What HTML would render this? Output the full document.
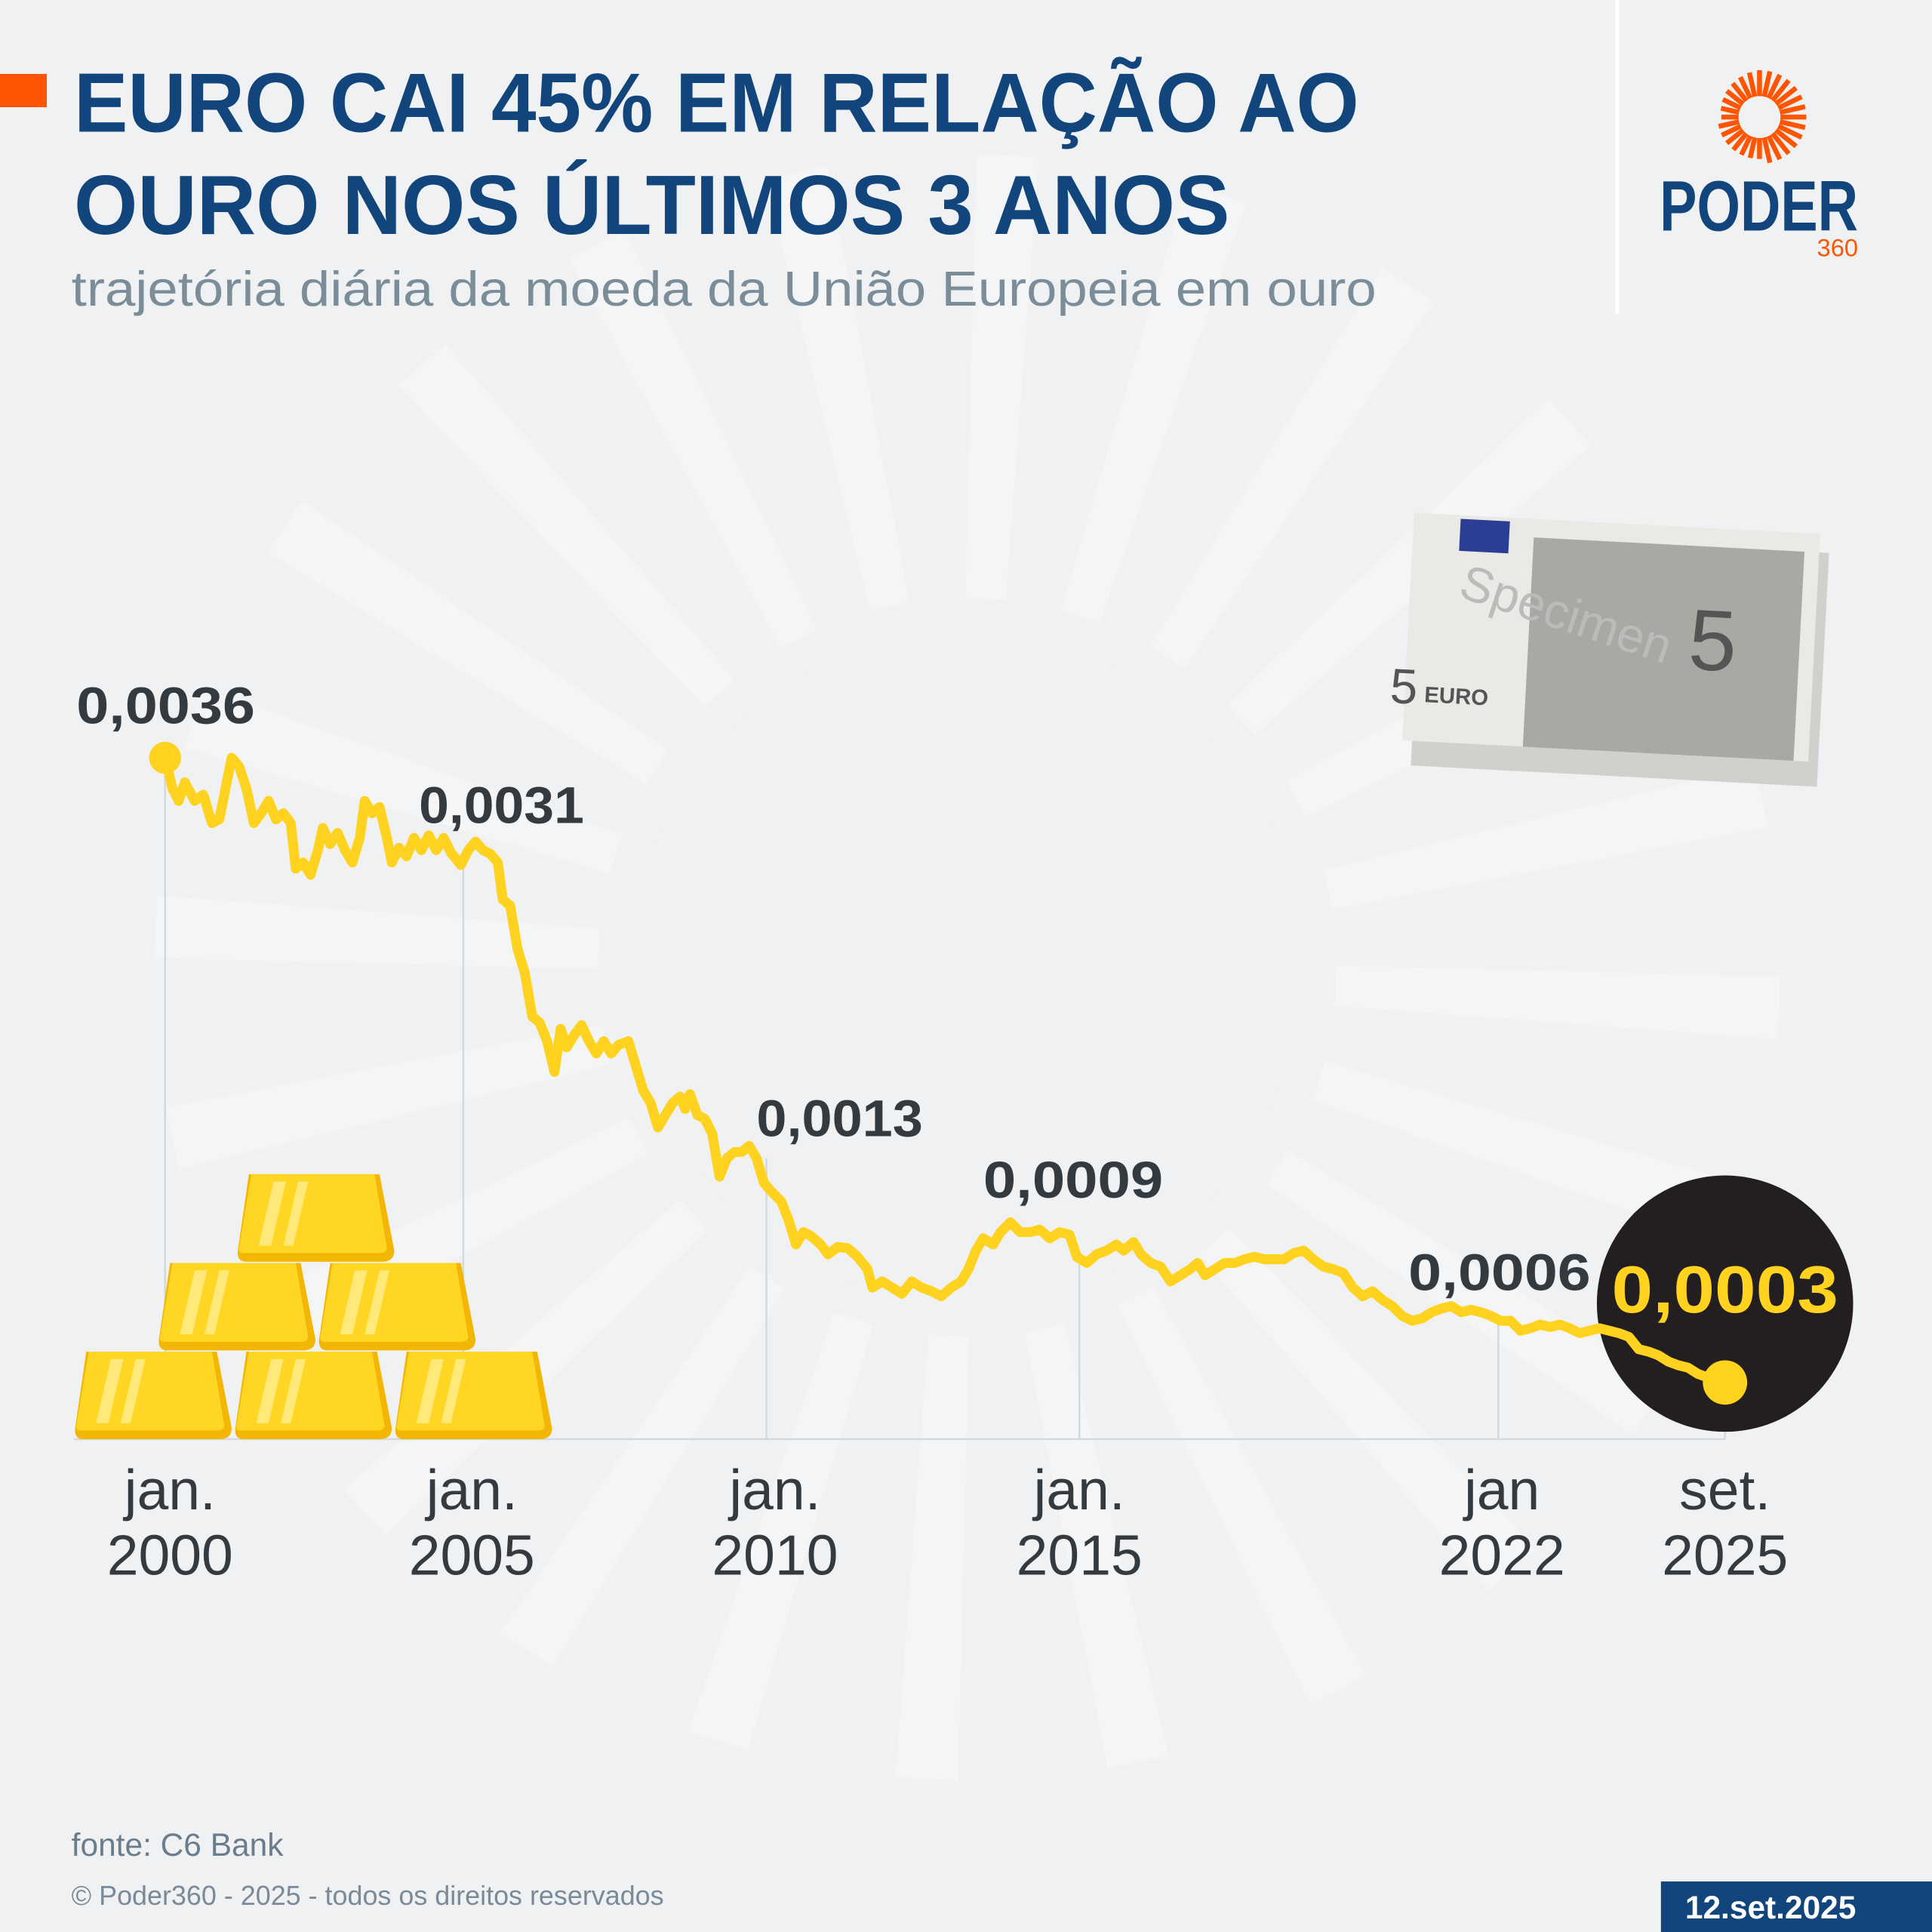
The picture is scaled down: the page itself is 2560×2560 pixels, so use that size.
<!DOCTYPE html>
<html><head><meta charset="utf-8"><style>
html,body{margin:0;padding:0;background:#eff1f3}
svg{display:block}
text{font-family:"Liberation Sans",sans-serif}
</style></head><body>
<svg id="s" xmlns="http://www.w3.org/2000/svg" width="2560" height="2560" viewBox="0 0 1568 1568">
<rect width="1568" height="1568" fill="#eff1f3"/>
<g id="rays" fill="#f4f5f6"></g>
<circle cx="785" cy="785" r="272" fill="#eff1f3"/>
<rect x="0" y="60" width="38" height="27" fill="#ff5500"/>
<text x="60" y="107" font-size="68" font-weight="bold" fill="#11457b" textLength="1043" lengthAdjust="spacingAndGlyphs">EURO CAI 45% EM RELAÇÃO AO</text>
<text x="60" y="190" font-size="68" font-weight="bold" fill="#11457b" textLength="938" lengthAdjust="spacingAndGlyphs">OURO NOS ÚLTIMOS 3 ANOS</text>
<text x="58" y="248" font-size="40" fill="#7a8d99" textLength="1059" lengthAdjust="spacingAndGlyphs">trajetória diária da moeda da União Europeia em ouro</text>
<rect x="1311" y="0" width="3" height="255" fill="#ffffff"/>
<g id="logo" stroke="#ff5500" stroke-width="4"></g>
<text x="1347" y="187" font-size="58" font-weight="bold" fill="#11457b" textLength="161" lengthAdjust="spacingAndGlyphs">PODER</text>
<text x="1508" y="208" font-size="20" fill="#ff5500" text-anchor="end">360</text>
<!-- banknote -->
<g transform="rotate(3 1315 530)">
<rect x="1150" y="440" width="330" height="190" fill="#d0d0cc"/>
<rect x="1142" y="425" width="330" height="185" fill="#e9e9e6"/>
<rect x="1240" y="440" width="220" height="170" fill="#a9a8a2"/>
<rect x="1180" y="428" width="40" height="26" fill="#2b3e93"/>
<text x="1130" y="580" font-size="40" fill="#555">5</text>
<text x="1158" y="578" font-size="18" font-weight="bold" fill="#555">EURO</text>
<text x="1370" y="540" font-size="70" fill="#555">5</text>
<text x="1175" y="510" font-size="40" fill="#bbb" transform="rotate(15 1250 520)">Specimen</text>
</g>
<!-- grid -->
<g stroke="#d3d8dc" stroke-width="1.5">
<line x1="134" y1="615" x2="134" y2="1168"/><line x1="376" y1="690" x2="376" y2="1168"/>
<line x1="622" y1="940" x2="622" y2="1168"/><line x1="876" y1="1020" x2="876" y2="1168"/>
<line x1="1216" y1="1075" x2="1216" y2="1168"/><line x1="1400" y1="1120" x2="1400" y2="1168"/>
<line x1="60" y1="1168" x2="1400" y2="1168"/>
</g>
<circle cx="1400" cy="1058" r="104" fill="#231f20"/>
<polyline fill="none" stroke="#ffd21f" stroke-width="8" stroke-linejoin="round" stroke-linecap="round" points="134,615 140,640 145,650 150,635 158,650 165,645 172,668 178,665 183,640 188,615 194,622 200,640 206,668 212,660 218,650 224,665 230,660 236,668 240,705 246,700 252,710 258,690 262,672 268,685 274,676 280,690 286,700 292,680 296,650 302,660 308,655 314,680 318,700 324,688 330,695 336,680 342,690 348,678 354,690 360,680 366,692 374,702 380,690 386,683 392,690 398,693 404,700 408,730 414,735 420,770 426,790 432,825 438,830 444,845 450,870 455,835 460,850 466,840 472,832 478,845 484,855 490,845 496,855 502,848 510,845 516,865 522,885 528,895 534,915 540,905 546,895 552,890 556,900 560,888 566,905 572,908 578,920 584,955 590,940 596,935 602,935 608,930 614,940 620,960 626,967 634,975 640,990 646,1010 652,1000 658,1003 666,1010 672,1018 680,1012 688,1013 696,1020 704,1030 708,1045 716,1040 724,1045 732,1050 740,1040 748,1045 756,1048 764,1052 772,1045 780,1040 786,1030 792,1015 798,1005 806,1010 812,1000 820,992 828,1000 836,1000 844,998 852,1005 860,1000 868,1002 874,1020 882,1025 890,1018 898,1015 906,1010 912,1015 920,1008 926,1018 934,1025 942,1028 950,1040 958,1035 966,1030 972,1025 978,1035 986,1030 994,1025 1002,1025 1010,1022 1018,1020 1026,1022 1034,1022 1042,1022 1050,1017 1058,1015 1066,1022 1074,1028 1082,1030 1090,1033 1098,1045 1106,1052 1114,1048 1122,1055 1130,1060 1138,1068 1146,1072 1154,1070 1162,1065 1170,1062 1178,1060 1186,1065 1194,1063 1202,1065 1210,1068 1218,1072 1226,1072 1234,1080 1242,1078 1250,1075 1258,1077 1266,1075 1274,1078 1282,1082 1290,1080 1298,1078 1306,1080 1314,1082 1322,1085 1330,1095 1338,1097 1346,1100 1354,1105 1362,1108 1370,1110 1378,1115 1386,1118 1400,1122"/>
<circle cx="134" cy="615" r="13" fill="#ffd21f"/>
<circle cx="1400" cy="1122" r="18" fill="#ffd21f"/>
<g font-size="42" font-weight="bold" fill="#333a40">
<text x="62" y="587" textLength="145" lengthAdjust="spacingAndGlyphs">0,0036</text><text x="340" y="668" textLength="134" lengthAdjust="spacingAndGlyphs">0,0031</text>
<text x="614" y="922" textLength="135" lengthAdjust="spacingAndGlyphs">0,0013</text><text x="798" y="972" textLength="146" lengthAdjust="spacingAndGlyphs">0,0009</text>
<text x="1143" y="1047" textLength="148" lengthAdjust="spacingAndGlyphs">0,0006</text>
</g>
<text x="1308" y="1065" font-size="54" font-weight="bold" fill="#ffd21f" textLength="184" lengthAdjust="spacingAndGlyphs">0,0003</text>
<g font-size="46" fill="#333a40" text-anchor="middle">
<text x="138" y="1225">jan.</text><text x="138" y="1278">2000</text>
<text x="383" y="1225">jan.</text><text x="383" y="1278">2005</text>
<text x="629" y="1225">jan.</text><text x="629" y="1278">2010</text>
<text x="876" y="1225">jan.</text><text x="876" y="1278">2015</text>
<text x="1219" y="1225">jan</text><text x="1219" y="1278">2022</text>
<text x="1400" y="1225">set.</text><text x="1400" y="1278">2025</text>
</g>
<g id="bars"></g>
<text x="58" y="1506" font-size="26" fill="#6b7d8c">fonte: C6 Bank</text>
<text x="58" y="1546" font-size="22" fill="#7a8a98">© Poder360 - 2025 - todos os direitos reservados</text>
<rect x="1348" y="1527" width="220" height="41" fill="#11457b"/>
<text x="1437" y="1557" font-size="26" font-weight="bold" fill="#fff" text-anchor="middle">12.set.2025</text>
</svg>
<script>
var NS="http://www.w3.org/2000/svg";
var rays=document.getElementById('rays');
for(var i=0;i<24;i++){var a=i*15*Math.PI/180+0.05,w=0.055;
var r1=300,r2=660,cx=785,cy=785;
var p=[[r1,a-w],[r2,a-w*0.7],[r2,a+w*0.7],[r1,a+w]].map(function(q){return (cx+q[0]*Math.cos(q[1])).toFixed(1)+","+(cy+q[0]*Math.sin(q[1])).toFixed(1)}).join(" ");
var e=document.createElementNS(NS,"polygon");e.setAttribute("points",p);rays.appendChild(e);}
var lg=document.getElementById('logo');
for(var i=0;i<28;i++){var a=i*360/28*Math.PI/180-Math.PI/2;var r2=(i<14)?38:34;if(i>=21)r2=38-(28-i)*1;
var l=document.createElementNS(NS,"line");
l.setAttribute("x1",1428+17*Math.cos(a));l.setAttribute("y1",95+17*Math.sin(a));
l.setAttribute("x2",1428+r2*Math.cos(a));l.setAttribute("y2",95+r2*Math.sin(a));lg.appendChild(l);}
var bars=document.getElementById('bars');
function bar(x,y){var g='<path d="M'+(x+10)+','+y+' L'+(x+116)+','+y+' L'+(x+128)+','+(y+62)+' Q'+(x+128)+','+(y+71)+' '+(x+118)+','+(y+71)+' L'+(x+8)+','+(y+71)+' Q'+(x)+','+(y+71)+' '+(x+1)+','+(y+62)+' Z" fill="#f2b705"/>'+
'<path d="M'+(x+12)+','+y+' L'+(x+112)+','+y+' L'+(x+122)+','+(y+60)+' Q'+(x+122)+','+(y+64)+' '+(x+116)+','+(y+64)+' L'+(x+6)+','+(y+64)+' Q'+(x+1)+','+(y+64)+' '+(x+2)+','+(y+60)+' Z" fill="#ffd623"/>'+
'<path d="M'+(x+30)+','+(y+6)+' L'+(x+40)+','+(y+6)+' L'+(x+28)+','+(y+58)+' L'+(x+18)+','+(y+58)+' Z" fill="#ffe97a"/>'+
'<path d="M'+(x+50)+','+(y+6)+' L'+(x+58)+','+(y+6)+' L'+(x+46)+','+(y+58)+' L'+(x+38)+','+(y+58)+' Z" fill="#ffe97a"/>';return g;}
bars.innerHTML=bar(60,1097)+bar(190,1097)+bar(320,1097)+bar(128,1025)+bar(258,1025)+bar(192,953);
</script>
</body></html>
